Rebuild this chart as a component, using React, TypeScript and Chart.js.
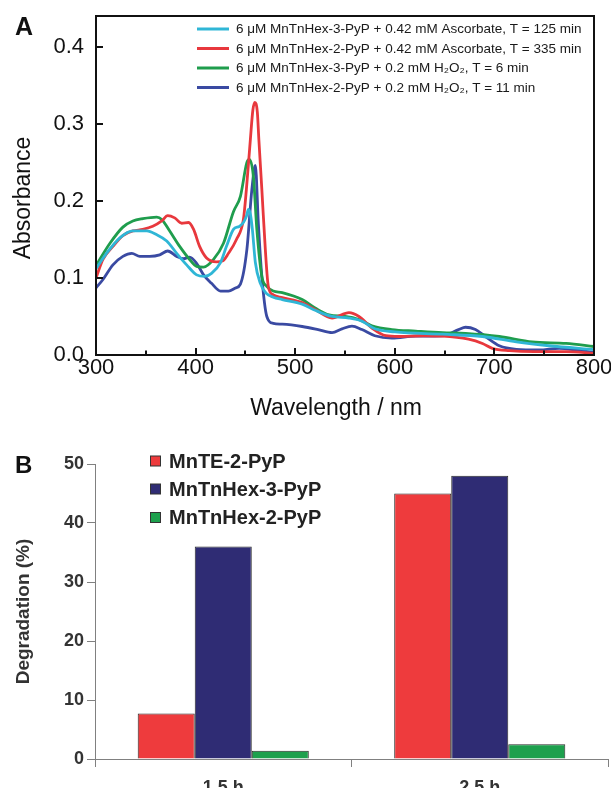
import React, { useEffect, useRef } from "react";
import { Chart, registerables } from "chart.js";

Chart.register(...registerables);

const FONT = "'Liberation Sans', Arial, Helvetica, sans-serif";

// ---------- Panel A: spectra ----------
const spectrumLabels = [
  "6 μM MnTnHex-3-PyP + 0.42 mM Ascorbate, T = 125 min",
  "6 μM MnTnHex-2-PyP + 0.42 mM Ascorbate, T = 335 min",
  "6 μM MnTnHex-3-PyP + 0.2 mM H₂O₂, T = 6 min",
  "6 μM MnTnHex-2-PyP + 0.2 mM H₂O₂, T = 11 min",
];
const spectrumColors = ["#2fb6d6", "#e8383d", "#1f9d4d", "#3a4aa2"];

const cyanWavelength = [300, 310, 324, 337, 351, 361, 371, 381, 391, 401, 409, 416, 425, 431, 438, 444, 448, 451, 453, 455, 457, 460, 465, 471, 478, 487, 507, 520, 537, 554, 567, 580, 600, 648, 688, 722, 755, 800];
const cyanAbsorbance = [0.112, 0.131, 0.152, 0.161, 0.161, 0.156, 0.148, 0.132, 0.117, 0.104, 0.102, 0.106, 0.12, 0.141, 0.163, 0.167, 0.172, 0.18, 0.189, 0.183, 0.163, 0.12, 0.093, 0.08, 0.075, 0.072, 0.066, 0.058, 0.05, 0.048, 0.044, 0.034, 0.03, 0.027, 0.024, 0.017, 0.012, 0.007];

const redWavelength = [300, 307, 317, 327, 337, 347, 357, 366, 372, 379, 386, 393, 398, 404, 411, 421, 427, 433, 441, 448, 451, 455, 457.5, 459.5, 462, 463.5, 466.5, 470, 473, 478, 487, 507, 520, 537, 554, 564, 577, 591, 604, 628, 648, 674, 688, 698, 715, 740, 772, 800];
const redAbsorbance = [0.1, 0.124, 0.141, 0.155, 0.161, 0.163, 0.167, 0.174, 0.181, 0.178, 0.171, 0.172, 0.163, 0.141, 0.126, 0.121, 0.122, 0.132, 0.15, 0.176, 0.215, 0.28, 0.318, 0.328, 0.315, 0.28, 0.215, 0.137, 0.089, 0.078, 0.0745, 0.068, 0.059, 0.048, 0.055, 0.05, 0.035, 0.025, 0.024, 0.025, 0.0245, 0.0205, 0.015, 0.0087, 0.0056, 0.0043, 0.0043, 0.0022];

const greenWavelength = [300, 314, 327, 337, 347, 361, 366, 374, 384, 394, 401, 408, 418, 428, 438, 445, 451.5, 454, 458, 461.5, 466.5, 471.5, 478, 487, 507, 520, 534, 550, 564, 577, 597, 621, 648, 671, 705, 738, 772, 800];
const greenAbsorbance = [0.116, 0.145, 0.166, 0.174, 0.177, 0.179, 0.176, 0.161, 0.141, 0.124, 0.115, 0.114, 0.124, 0.145, 0.186, 0.206, 0.25, 0.254, 0.232, 0.163, 0.102, 0.089, 0.083, 0.081, 0.072, 0.061, 0.052, 0.05, 0.046, 0.038, 0.033, 0.031, 0.029, 0.028, 0.024, 0.017, 0.015, 0.011];

const blueWavelength = [300, 307, 317, 327, 336, 344, 354, 364, 372, 381, 388, 394, 401, 408, 416, 425, 433, 440, 445, 451.5, 456.5, 460, 463, 466.5, 471.5, 478, 487, 507, 523, 537, 547, 557, 567, 580, 597, 621, 648, 664, 671, 681, 691, 705, 722, 745, 765, 782, 800];
const blueAbsorbance = [0.087, 0.098, 0.117, 0.128, 0.132, 0.128, 0.128, 0.13, 0.135, 0.128, 0.125, 0.127, 0.119, 0.104, 0.093, 0.083, 0.083, 0.087, 0.092, 0.137, 0.215, 0.246, 0.171, 0.102, 0.05, 0.041, 0.04, 0.037, 0.033, 0.029, 0.034, 0.0375, 0.033, 0.025, 0.022, 0.0245, 0.025, 0.033, 0.036, 0.033, 0.024, 0.012, 0.0074, 0.0065, 0.0087, 0.0065, 0.003];

// ---------- Panel B: degradation bars ----------
const timeCategories = ["1.5 h", "2.5 h"];
const barSeriesLabels = ["MnTE-2-PyP", "MnTnHex-3-PyP", "MnTnHex-2-PyP"];
const mnTE2PyP = [7.7, 45];
const mnTnHex3PyP = [36, 48];
const mnTnHex2PyP = [1.4, 2.5];
const barColors = ["#ee3b3d", "#2f2c74", "#1da04d"];

const toPoints = (xs: number[], ys: number[]) => xs.map((x, i) => ({ x, y: ys[i] }));

const noScalePadding = (s: any) => {
  s.paddingTop = 0;
  s.paddingBottom = 0;
  s.paddingLeft = 0;
  s.paddingRight = 0;
};

const spectraDecor = {
  id: "spectraDecor",
  afterDatasetsDraw(chart: any) {
    const { ctx, chartArea: a, scales } = chart;
    const xs = scales.x;
    const ys = scales.y;
    ctx.save();
    ctx.strokeStyle = "#111";
    ctx.lineWidth = 2;
    for (let v = xs.min; v <= xs.max; v += 50) {
      const px = Math.round(xs.getPixelForValue(v));
      const len = v % 100 === 0 ? 7 : 4.5;
      ctx.beginPath();
      ctx.moveTo(px, a.bottom);
      ctx.lineTo(px, a.bottom - len);
      ctx.stroke();
    }
    for (const t of ys.ticks) {
      const py = Math.round(ys.getPixelForValue(t.value));
      ctx.beginPath();
      ctx.moveTo(a.left, py);
      ctx.lineTo(a.left + 7, py);
      ctx.stroke();
    }
    ctx.strokeRect(a.left, a.top, a.right - a.left, a.bottom - a.top);

    // legend inside the plot
    chart.data.datasets.forEach((ds: any, i: number) => {
      const y = a.top + 13 + i * 19.5;
      ctx.strokeStyle = ds.borderColor;
      ctx.lineWidth = 3;
      ctx.beginPath();
      ctx.moveTo(a.left + 101, y);
      ctx.lineTo(a.left + 133, y);
      ctx.stroke();
      ctx.fillStyle = "#1a1a1a";
      ctx.font = `13.5px ${FONT}`;
      ctx.textAlign = "left";
      ctx.textBaseline = "middle";
      ctx.fillText(ds.label, a.left + 140, y + 0.5);
    });

    // axis titles and panel letter
    ctx.fillStyle = "#111";
    ctx.font = `23px ${FONT}`;
    ctx.textAlign = "center";
    ctx.textBaseline = "alphabetic";
    ctx.fillText("Wavelength / nm", 336, 415);
    ctx.save();
    ctx.translate(29.5, 198);
    ctx.rotate(-Math.PI / 2);
    ctx.fillText("Absorbance", 0, 0);
    ctx.restore();
    ctx.font = `bold 25px ${FONT}`;
    ctx.textAlign = "left";
    ctx.fillText("A", 15, 35);
    ctx.restore();
  },
};

const barDecor = {
  id: "barDecor",
  afterDraw(chart: any) {
    const { ctx } = chart;
    ctx.save();
    const rows = [41, 69, 97.5];
    chart.data.datasets.forEach((ds: any, i: number) => {
      const y = rows[i];
      ctx.fillStyle = ds.backgroundColor;
      ctx.fillRect(150.5, y - 5, 10, 10);
      ctx.strokeStyle = "#333";
      ctx.lineWidth = 1;
      ctx.strokeRect(150.5, y - 5, 10, 10);
      ctx.fillStyle = "#222";
      ctx.font = `bold 20px ${FONT}`;
      ctx.textAlign = "left";
      ctx.textBaseline = "middle";
      ctx.fillText(ds.label, 169, y + 1);
    });
    ctx.fillStyle = "#111";
    ctx.font = `bold 24px ${FONT}`;
    ctx.textBaseline = "alphabetic";
    ctx.fillText("B", 15, 53);
    ctx.restore();
  },
};

export default function App() {
  const refA = useRef<HTMLCanvasElement>(null);
  const refB = useRef<HTMLCanvasElement>(null);

  useEffect(() => {
    const series = [
      toPoints(cyanWavelength, cyanAbsorbance),
      toPoints(redWavelength, redAbsorbance),
      toPoints(greenWavelength, greenAbsorbance),
      toPoints(blueWavelength, blueAbsorbance),
    ];
    const tickFont = { family: FONT, size: 22 };
    const chartA = new Chart(refA.current as HTMLCanvasElement, {
      type: "line",
      data: {
        datasets: series.map((pts, i) => ({
          label: spectrumLabels[i],
          data: pts,
          borderColor: spectrumColors[i],
          backgroundColor: spectrumColors[i],
          borderWidth: 2.8,
          pointRadius: 0,
          fill: false,
          cubicInterpolationMode: "monotone",
        })),
      },
      options: {
        responsive: false,
        animation: false,
        layout: { padding: { top: 16, right: 17, left: 0, bottom: 0 } },
        plugins: { legend: { display: false }, tooltip: { enabled: false } },
        scales: {
          x: {
            type: "linear",
            min: 300,
            max: 800,
            grid: { display: false, drawTicks: false },
            border: { display: false },
            ticks: { stepSize: 100, padding: 0, color: "#111", font: tickFont, maxRotation: 0 },
            afterFit: (s: any) => {
              s.height = 65;
              noScalePadding(s);
            },
          },
          y: {
            min: 0,
            max: 0.44,
            grid: { display: false, drawTicks: false },
            border: { display: false },
            ticks: {
              stepSize: 0.1,
              includeBounds: false,
              padding: 12,
              color: "#111",
              font: tickFont,
              callback: (v: any) => Number(v).toFixed(1),
            },
            afterFit: (s: any) => {
              s.width = 96;
              noScalePadding(s);
            },
          },
        },
      } as any,
      plugins: [spectraDecor],
    });

    const barValues = [mnTE2PyP, mnTnHex3PyP, mnTnHex2PyP];
    const boldFont = { family: FONT, size: 18, weight: "bold" as const };
    const chartB = new Chart(refB.current as HTMLCanvasElement, {
      type: "bar",
      data: {
        labels: timeCategories,
        datasets: barValues.map((vals, i) => ({
          label: barSeriesLabels[i],
          data: vals,
          backgroundColor: barColors[i],
          borderColor: "#2a2a2a",
          borderWidth: 1,
          categoryPercentage: 0.667,
          barPercentage: 1,
        })),
      },
      options: {
        responsive: false,
        animation: false,
        layout: { padding: { top: 44, right: 3, left: 0, bottom: 0 } },
        plugins: { legend: { display: false }, tooltip: { enabled: false } },
        scales: {
          x: {
            grid: { offset: true, drawOnChartArea: false, tickLength: 8, color: "#808080", lineWidth: 1 },
            border: { display: true, color: "#808080", width: 1 },
            ticks: { padding: 10, color: "#333", font: boldFont, maxRotation: 0 },
            afterFit: (s: any) => {
              s.height = 29;
              noScalePadding(s);
            },
          },
          y: {
            min: 0,
            max: 50,
            grid: { drawOnChartArea: false, tickLength: 8, color: "#808080" },
            border: { display: true, color: "#808080", width: 1 },
            ticks: { stepSize: 10, padding: 3, color: "#333", font: boldFont },
            title: {
              display: true,
              text: "Degradation (%)",
              color: "#333",
              font: { family: FONT, size: 19, weight: "bold" },
              padding: { top: 12, bottom: 0 },
            },
            afterFit: (s: any) => {
              s.width = 95;
              noScalePadding(s);
            },
          },
        },
      } as any,
      plugins: [barDecor],
    });

    return () => {
      chartA.destroy();
      chartB.destroy();
    };
  }, []);

  return (
    <div style={{ position: "absolute", left: 0, top: 0, width: 611, height: 788, background: "#fff", overflow: "hidden" }}>
      <canvas ref={refA} width={611} height={420} style={{ position: "absolute", left: 0, top: 0, width: 611, height: 420 }} />
      <canvas ref={refB} width={611} height={368} style={{ position: "absolute", left: 0, top: 420, width: 611, height: 368 }} />
    </div>
  );
}
